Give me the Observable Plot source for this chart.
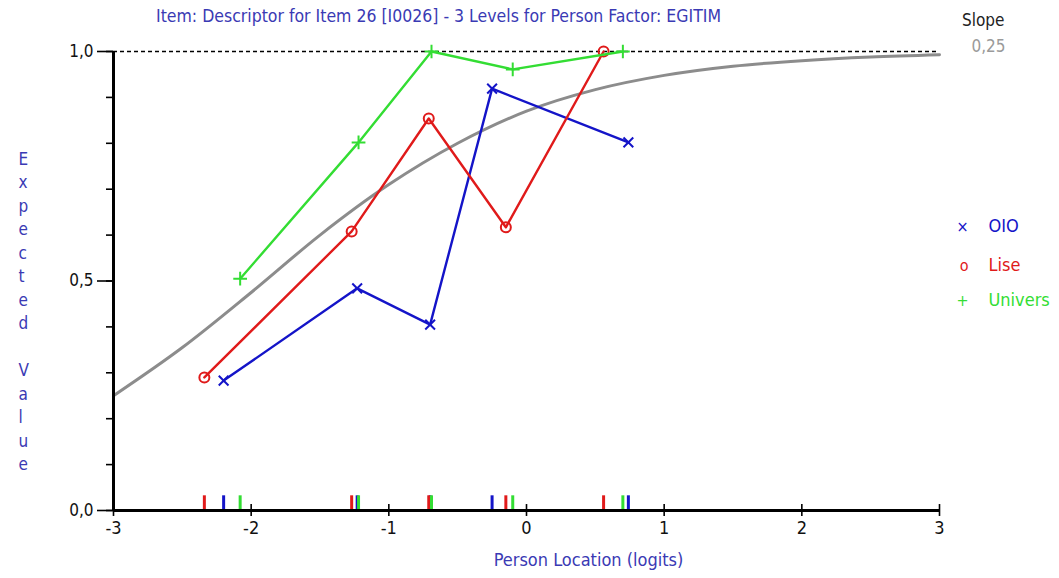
<!DOCTYPE html>
<html><head><meta charset="utf-8">
<script src="https://cdn.jsdelivr.net/npm/d3@7"></script>
<script src="https://cdn.jsdelivr.net/npm/@observablehq/plot@0.6"></script>
<style>body{margin:0;background:#fff;overflow:hidden}</style>
</head><body><div id="chart"></div>
<script>
const groups = ["OIO", "Lise", "Univers"];
const colors = ["#1414c8", "#e01a1a", "#33dd33"];
const legendGlyphs = ["×", "o", "+"];
const dotSymbols = ["times", "circle", "plus"];

const oioX = [-2.20, -1.23, -0.70, -0.25, 0.74];
const oioY = [0.283, 0.484, 0.405, 0.919, 0.802];
const liseX = [-2.34, -1.27, -0.71, -0.15, 0.56];
const liseY = [0.290, 0.608, 0.854, 0.617, 1.0];
const univX = [-2.08, -1.22, -0.69, -0.10, 0.70];
const univY = [0.505, 0.802, 1.0, 0.961, 1.0];

const curveX = [-3, -2.5, -2, -1.5, -1, -0.5, 0, 0.5, 1, 1.5, 2, 2.5, 3];
const curveY = [0.25, 0.355, 0.475, 0.60, 0.71, 0.80, 0.87, 0.917, 0.948, 0.968, 0.98, 0.988, 0.993];

const xTicks = [-3, -2, -1, 0, 1, 2, 3];
const xTickLabels = ["-3", "-2", "-1", "0", "1", "2", "3"];
const yMinorTicks = [0, 0.1, 0.2, 0.3, 0.4, 0.5, 0.6, 0.7, 0.8, 0.9, 1.0];
const yLabelTicks = [0, 0.5, 1.0];
const yLabels = ["0,0", "0,5", "1,0"];

const title = "Item: Descriptor for Item 26 [I0026] - 3 Levels for Person Factor: EGITIM";
const xLabel = "Person Location (logits)";
const yLabel = "Expected Value";
const slopeLabel = "Slope";
const slopeValue = "0,25";

const seriesX = [oioX, liseX, univX];
const seriesY = [oioY, liseY, univY];
const pts = groups.flatMap((g, k) => seriesX[k].map((x, i) => ({x, y: seriesY[k][i], g, k})));
const curve = curveX.map((x, i) => ({x, y: curveY[i]}));

const FONT = "'Liberation Sans Narrow', 'DejaVu Sans Condensed', 'Liberation Sans', sans-serif";
const blueText = "#3a3ab4";

const marks = [
  Plot.ruleY([1], {x1: -3, x2: 3, stroke: "#000", strokeWidth: 1.3, strokeDasharray: "4,3"}),
  Plot.line(curve, {x: "x", y: "y", stroke: "#8c8c8c", strokeWidth: 3, curve: "monotone-x"})
];
groups.forEach((g, k) => {
  const d = pts.filter(p => p.k === k);
  marks.push(Plot.line(d, {x: "x", y: "y", stroke: colors[k], strokeWidth: 2.4}));
  marks.push(Plot.dot(d, {x: "x", y: "y", stroke: colors[k], symbol: dotSymbols[k], r: k === 1 ? 5 : 4.5, strokeWidth: 2}));
});
groups.forEach((g, k) => {
  marks.push(Plot.ruleX(pts.filter(p => p.k === k), {x: "x", y1: 0, y2: 0.032, stroke: colors[k], strokeWidth: 3}));
});
marks.push(
  Plot.axisX({ticks: [], label: null}),
  Plot.ruleY([0], {x1: -3, x2: 3, stroke: "#000", strokeWidth: 3}),
  Plot.ruleX([-3], {y1: 0, y2: 1, stroke: "#000", strokeWidth: 3}),
  Plot.ruleX(xTicks, {y1: -0.013, y2: 0.013, stroke: "#000", strokeWidth: 1.6}),
  Plot.axisY({ticks: yMinorTicks, tickSize: 7, strokeWidth: 1.6, tickFormat: () => "", label: null}),
  Plot.axisY({ticks: yLabelTicks, tickSize: 16, strokeWidth: 1.6, tickFormat: () => "", label: null}),
  Plot.text(xTicks, {x: d => d, y: 0, text: (d, i) => xTickLabels[i], dy: 18, lineAnchor: "middle", fill: "#111", fontSize: 18}),
  Plot.text(yLabelTicks, {y: d => d, frameAnchor: "left", text: (d, i) => yLabels[i], dx: -20, textAnchor: "end", lineAnchor: "middle", fill: "#111", fontSize: 17}),
  Plot.text([title], {frameAnchor: "top", lineAnchor: "middle", dx: -88, dy: -35, fill: blueText, fontSize: 17.5}),
  Plot.text([xLabel], {frameAnchor: "bottom", lineAnchor: "middle", dx: 62, dy: 50, fill: blueText, fontSize: 18}),
  Plot.text([yLabel.split("").join("\n")], {frameAnchor: "left", dx: -95, dy: 29, fill: blueText, fontSize: 17, lineHeight: 1.38}),
  Plot.text([slopeLabel], {frameAnchor: "top-right", lineAnchor: "middle", dx: 65, dy: -31, fill: "#222", fontSize: 17}),
  Plot.text([slopeValue], {frameAnchor: "top-right", lineAnchor: "middle", dx: 66, dy: -5, fill: "#9a9a9a", fontSize: 17})
);
groups.forEach((g, k) => {
  const dy = [175, 214, 249][k];
  marks.push(Plot.text([legendGlyphs[k]], {frameAnchor: "top-right", lineAnchor: "middle", dx: 29, dy, fill: colors[k], fontSize: 16}));
  marks.push(Plot.text([g], {frameAnchor: "top-right", lineAnchor: "middle", dx: 49, dy, fill: colors[k], fontSize: 18, textAnchor: "start"}));
});

const chart = Plot.plot({
  width: 1059, height: 578,
  marginLeft: 113, marginRight: 120, marginTop: 51, marginBottom: 68,
  x: {domain: [-3, 3]},
  y: {domain: [0, 1]},
  style: {fontFamily: FONT, fontSize: "15px", background: "#fff", overflow: "visible"},
  marks
});
document.getElementById("chart").append(chart);
</script>
</body></html>
